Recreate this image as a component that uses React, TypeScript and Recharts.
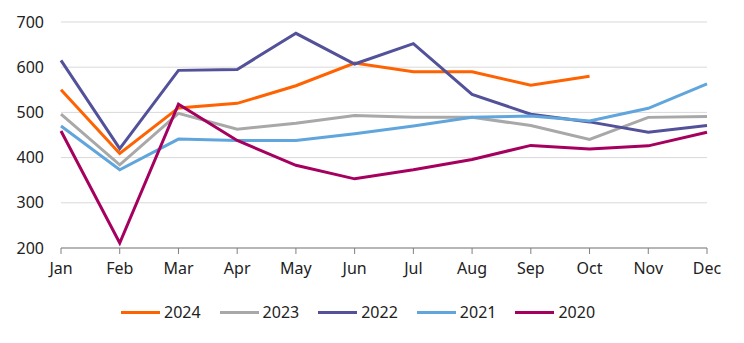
import { LineChart, Line, XAxis, YAxis, CartesianGrid } from 'recharts'

const MONTHS = ['Jan', 'Feb', 'Mar', 'Apr', 'May', 'Jun', 'Jul', 'Aug', 'Sep', 'Oct', 'Nov', 'Dec']
const Y_TICKS = [200, 300, 400, 500, 600, 700]

const S2024 = [550, 409, 510, 520, 559, 609, 590, 590, 560, 580, null, null]
const S2023 = [496, 384, 498, 463, 476, 493, 489, 489, 471, 440, 489, 491]
const S2022 = [615, 420, 593, 595, 675, 607, 652, 540, 496, 479, 456, 471]
const S2021 = [470, 373, 441, 438, 438, 453, 470, 489, 492, 481, 509, 563]
const S2020 = [459, 211, 518, 438, 383, 353, 373, 396, 427, 419, 426, 456]

const SERIES = [
    { key: 'y2024', name: '2024', color: '#ff6200', values: S2024 },
    { key: 'y2023', name: '2023', color: '#a8a8a8', values: S2023 },
    { key: 'y2022', name: '2022', color: '#525199', values: S2022 },
    { key: 'y2021', name: '2021', color: '#60a5dc', values: S2021 },
    { key: 'y2020', name: '2020', color: '#a6005f', values: S2020 },
]

const data = MONTHS.map((m, i) => {
    const row: Record<string, string | number | null> = { month: m }
    SERIES.forEach((s) => {
        row[s.key] = s.values[i]
    })
    return row
})

const FONT = '"Noto Sans", sans-serif'

// legend drawn as plain html under the chart
function ChartLegend() {
    return (
        <div
            style={{
                position: 'absolute',
                left: 121,
                top: 301,
                display: 'flex',
                alignItems: 'center',
                fontFamily: FONT,
                fontSize: 16,
                color: '#222',
                height: 22,
            }}>
            {SERIES.map((s) => (
                <div key={s.key} style={{ display: 'flex', alignItems: 'center', marginRight: 19 }}>
                    <span style={{ width: 39, height: 3, background: s.color, marginRight: 4, display: 'inline-block' }} />
                    <span>{s.name}</span>
                </div>
            ))}
        </div>
    )
}

export default function App() {
    return (
        <div style={{ position: 'absolute', left: 0, top: 0, width: 744, height: 343, background: '#fff' }}>
            <LineChart width={744} height={343} data={data} margin={{ top: 22, right: 37, bottom: 65, left: 0 }}>
                <CartesianGrid vertical={false} stroke="#d9d9d9" strokeWidth={1} />
                <XAxis
                    dataKey="month"
                    stroke="#808080"
                    tickSize={6}
                    tickMargin={9}
                    tick={{ fill: '#222', fontSize: 16, fontFamily: FONT }}
                    interval={0}
                    height={30}
                />
                <YAxis
                    domain={[200, 700]}
                    ticks={Y_TICKS}
                    width={61}
                    axisLine={false}
                    tickLine={false}
                    tickMargin={11}
                    tick={{ fill: '#222', fontSize: 16, fontFamily: FONT }}
                />
                {SERIES.map((s) => (
                    <Line
                        key={s.key}
                        dataKey={s.key}
                        name={s.name}
                        stroke={s.color}
                        strokeWidth={3}
                        dot={false}
                        activeDot={false}
                        type="linear"
                        isAnimationActive={false}
                    />
                ))}
            </LineChart>
            <ChartLegend />
        </div>
    )
}
